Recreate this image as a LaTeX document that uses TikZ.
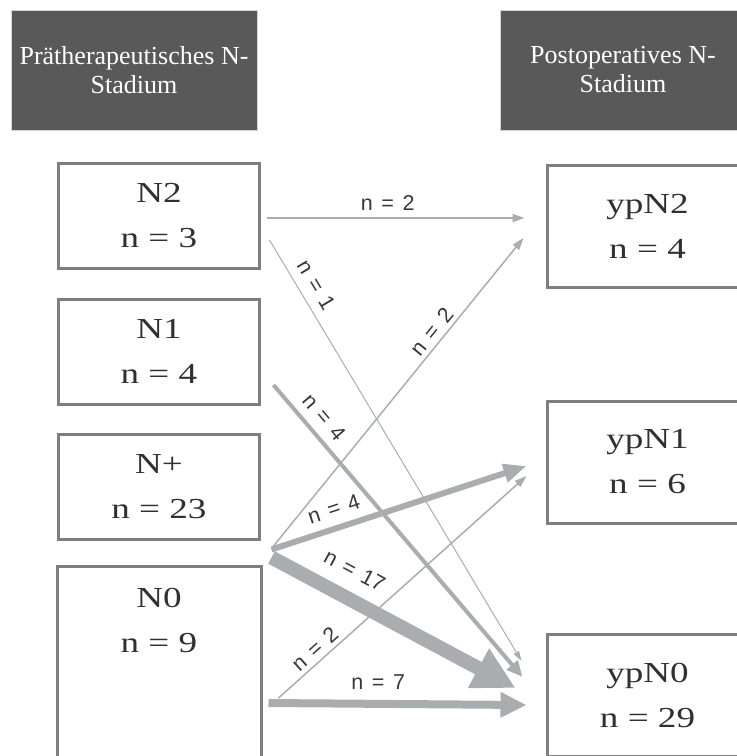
\documentclass[tikz,border=0pt]{standalone}
\usepackage{fontspec}
\setmainfont{Liberation Serif}
\newfontfamily\boxfont[FakeStretch=1.28]{Liberation Serif}
\newfontfamily\lblfont{Liberation Sans}
\usetikzlibrary{arrows.meta,calc}
\definecolor{hdrfill}{HTML}{595959}
\definecolor{hdredge}{HTML}{D6D6D6}
\definecolor{boxline}{HTML}{7F7F7F}
\definecolor{boxtext}{HTML}{303030}
\definecolor{arrowgray}{HTML}{AAADB0}
\definecolor{lbltext}{HTML}{383838}
\newcommand{\nlab}[1]{n\hspace{0.4em}=\hspace{0.4em}#1}
\begin{document}
\begin{tikzpicture}[x=1pt,y=-1pt,
  hdr/.style={fill=hdrfill, draw=hdredge, line width=1pt, minimum width=246pt, minimum height=120pt,
    text=white, align=center, inner sep=0pt, font=\fontsize{26}{29}\selectfont},
  lbox/.style={draw=boxline, line width=3pt, fill=white, minimum width=201pt, minimum height=105pt,
    inner sep=0pt, align=center, text=boxtext, font=\boxfont\fontsize{29}{45}\selectfont},
  rbox/.style={lbox, minimum width=200pt, minimum height=122pt},
  conn/.style={draw=arrowgray, line cap=butt},
  lbl/.style={font=\lblfont\fontsize{21.5}{21.5}\selectfont, text=lbltext, inner sep=0pt},
]
\useasboundingbox (0,0) rectangle (737,756);
\clip (0,0) rectangle (737,756);

% headers
\node[hdr] (hl) at (134,70) {Prätherapeutisches N-\\Stadium};
\node[hdr] (hr) at (623,70) {Postoperatives N-\\Stadium};

% left boxes
\node[lbox] (n2) at (159,216) {N2\\n = 3};
\node[lbox] (n1) at (159,351.5) {N1\\n = 4};
\node[lbox] (np) at (159,487) {N+\\n = 23};
\node[lbox, draw=none, fill=none] (n0) at (159,620.5) {N0\\n = 9};
\draw[draw=boxline, line width=3pt] (n0.north west) rectangle ($(n0.north east)+(0,220)$);

% right boxes
\node[rbox] (y2) at (647.5,226.5) {ypN2\\n = 4};
\node[rbox] (y1) at (647.5,462) {ypN1\\n = 6};
\node[rbox] (y0) at (647.5,695.5) {ypN0\\n = 29};

% connectors
\draw[conn, line width=2pt, -{Triangle[length=12pt,width=8pt]}]
  ($(n2.east)+(5.5,2)$) -- node[lbl, above=7pt, pos=0.47] (l1) {\nlab{2}} ($(y2.west)+(-21.5,-8.5)$);
\draw[conn, line width=1pt, -{Triangle[length=10pt,width=6pt]}]
  ($(n2.east)+(8.5,24)$) -- node[lbl, sloped, above=9pt, pos=0.128] (l2) {\nlab{1}} ($(y0.west)+(-24.5,-34.5)$);
\draw[conn, line width=1.5pt, -{Triangle[length=12pt,width=8pt]}]
  ($(np.south east)+(10.5,7.5)$) -- node[lbl, sloped, above=4pt, pos=0.674] (l3) {\nlab{2}} ($(y2.west)+(-22.5,11.5)$);
\draw[conn, line width=4pt, -{Triangle[length=16pt,width=14pt]}]
  ($(n1.east)+(12.5,33.5)$) -- node[lbl, sloped, above=8.4pt, pos=0.149] (l4) {\nlab{4}} ($(y0.west)+(-23.5,-18.5)$);
\draw[conn, line width=6pt, -{Triangle[length=23pt,width=18pt]}]
  ($(np.south east)+(10.5,8.5)$) -- node[lbl, sloped, above=9pt, pos=0.268] (l5) {\nlab{4}} ($(y1.west)+(-19.5,4)$);
\draw[conn, line width=1.5pt, -{Triangle[length=12pt,width=8pt]}]
  ($(n0.north east)+(17.5,131.5)$) -- node[lbl, sloped, above=4pt, pos=0.179] (l6) {\nlab{2}} ($(y1.west)+(-19.5,14)$);
\draw[conn, line width=14pt, -{Triangle[length=42pt,width=42pt]}]
  ($(np.south east)+(10.5,16.5)$) -- node[lbl, sloped, above=13.5pt, pos=0.287] (l7) {\nlab{17}} ($(y0.west)+(-30.5,-7.5)$);
\draw[conn, line width=8pt, -{Triangle[length=26pt,width=24pt]}]
  ($(n0.north east)+(7.5,136.5)$) -- node[lbl, above=10pt, pos=0.425] (l8) {\nlab{7}} ($(y0.west)+(-19.5,9.5)$);
\end{tikzpicture}
\end{document}
